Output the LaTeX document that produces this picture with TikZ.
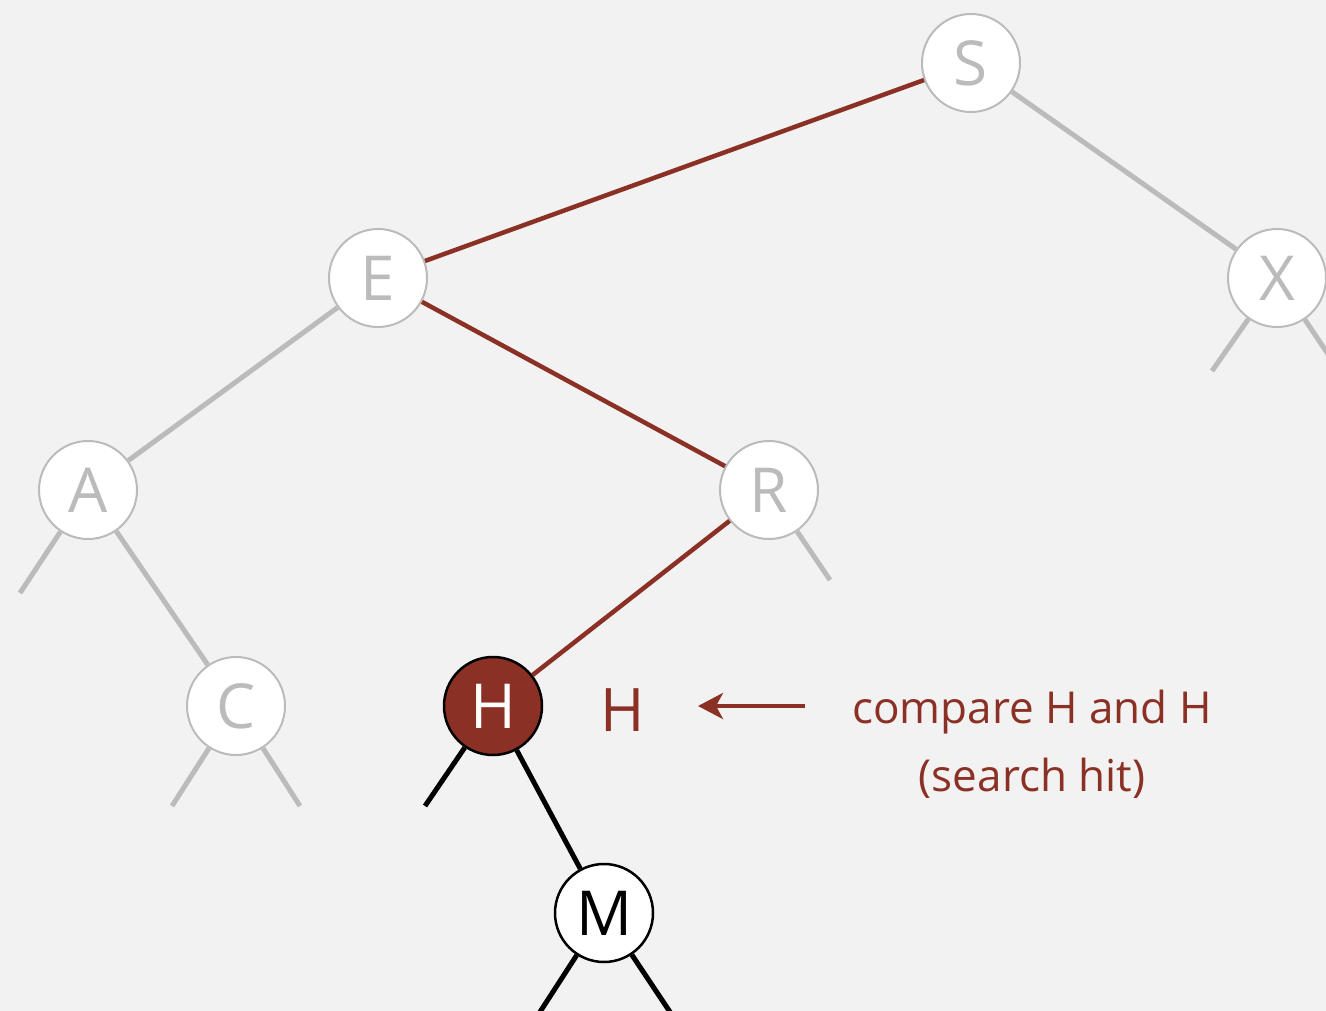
\documentclass[tikz,border=0pt]{standalone}
\usepackage{fontspec}
\setmainfont{Open Sans}
\usetikzlibrary{arrows.meta}
\definecolor{bg}{HTML}{F2F2F2}
\definecolor{hit}{HTML}{8B3024}
\definecolor{lgray}{HTML}{BBBBBB}
\tikzset{
  key/.style={circle,minimum size=98pt,inner sep=0pt,fill=white,font=\fontsize{62}{70}\selectfont},
  oldkey/.style={key,draw=lgray,line width=2pt,text=lgray},
  curkey/.style={key,draw=black,line width=2.5pt,fill=hit,text=white},
  newkey/.style={key,draw=black,line width=2.5pt,text=black},
  grayedge/.style={draw=lgray,line width=5pt},
  pathedge/.style={draw=hit,line width=4.5pt},
  blackedge/.style={draw=black,line width=5pt},
  lbl/.style={text=hit,font=\fontsize{44}{68}\selectfont,align=center},
}
\begin{document}
\begin{tikzpicture}[x=1pt,y=-1pt]
\fill[bg] (0,0) rectangle (1326,1011);
\useasboundingbox (0,0) rectangle (1326,1011);
% coordinates for null links
\coordinate (al) at (20,593);
\coordinate (rr) at (830,580);
\coordinate (xl) at (1212,371);
\coordinate (xr) at (1340,372);
\coordinate (cl) at (172,806);
\coordinate (cr) at (300,806);
\coordinate (hl) at (425,806);
\coordinate (ml) at (538,1015);
\coordinate (mr) at (672,1015);
% nodes
\node[oldkey] (S) at (971,63) {S};
\node[oldkey] (E) at (378,278) {E};
\node[oldkey] (X) at (1277,278) {X};
\node[oldkey] (A) at (88,490) {A};
\node[oldkey] (R) at (769,490) {R};
\node[oldkey] (C) at (236,706) {C};
\node[curkey] (H) at (493,706) {H};
\node[newkey] (M) at (604,913) {M};
% edges
\path[grayedge] (S) -- (X);
\path[grayedge] (E) -- (A);
\path[grayedge] (A) -- (C);
\path[grayedge] (A) -- (al);
\path[grayedge] (R) -- (rr);
\path[grayedge] (X) -- (xl);
\path[grayedge] (X) -- (xr);
\path[grayedge] (C) -- (cl);
\path[grayedge] (C) -- (cr);
\path[pathedge] (S) -- (E);
\path[pathedge] (E) -- (R);
\path[pathedge] (R) -- (H);
\path[blackedge] (H) -- (hl);
\path[blackedge] (H) -- (M);
\path[blackedge] (M) -- (ml);
\path[blackedge] (M) -- (mr);
% labels
\node[lbl,font=\fontsize{60}{66}\selectfont] (q) at (623,710) {H};
\node[lbl] (cmp) at (1032,744) {compare H and H\\(search hit)};
\coordinate (as) at (805,706);
\coordinate (ae) at (698,706);
\draw[hit,line width=4pt,-{Stealth[length=25pt,width=26pt,inset=7pt]}] (as) -- (ae);
\end{tikzpicture}
\end{document}
